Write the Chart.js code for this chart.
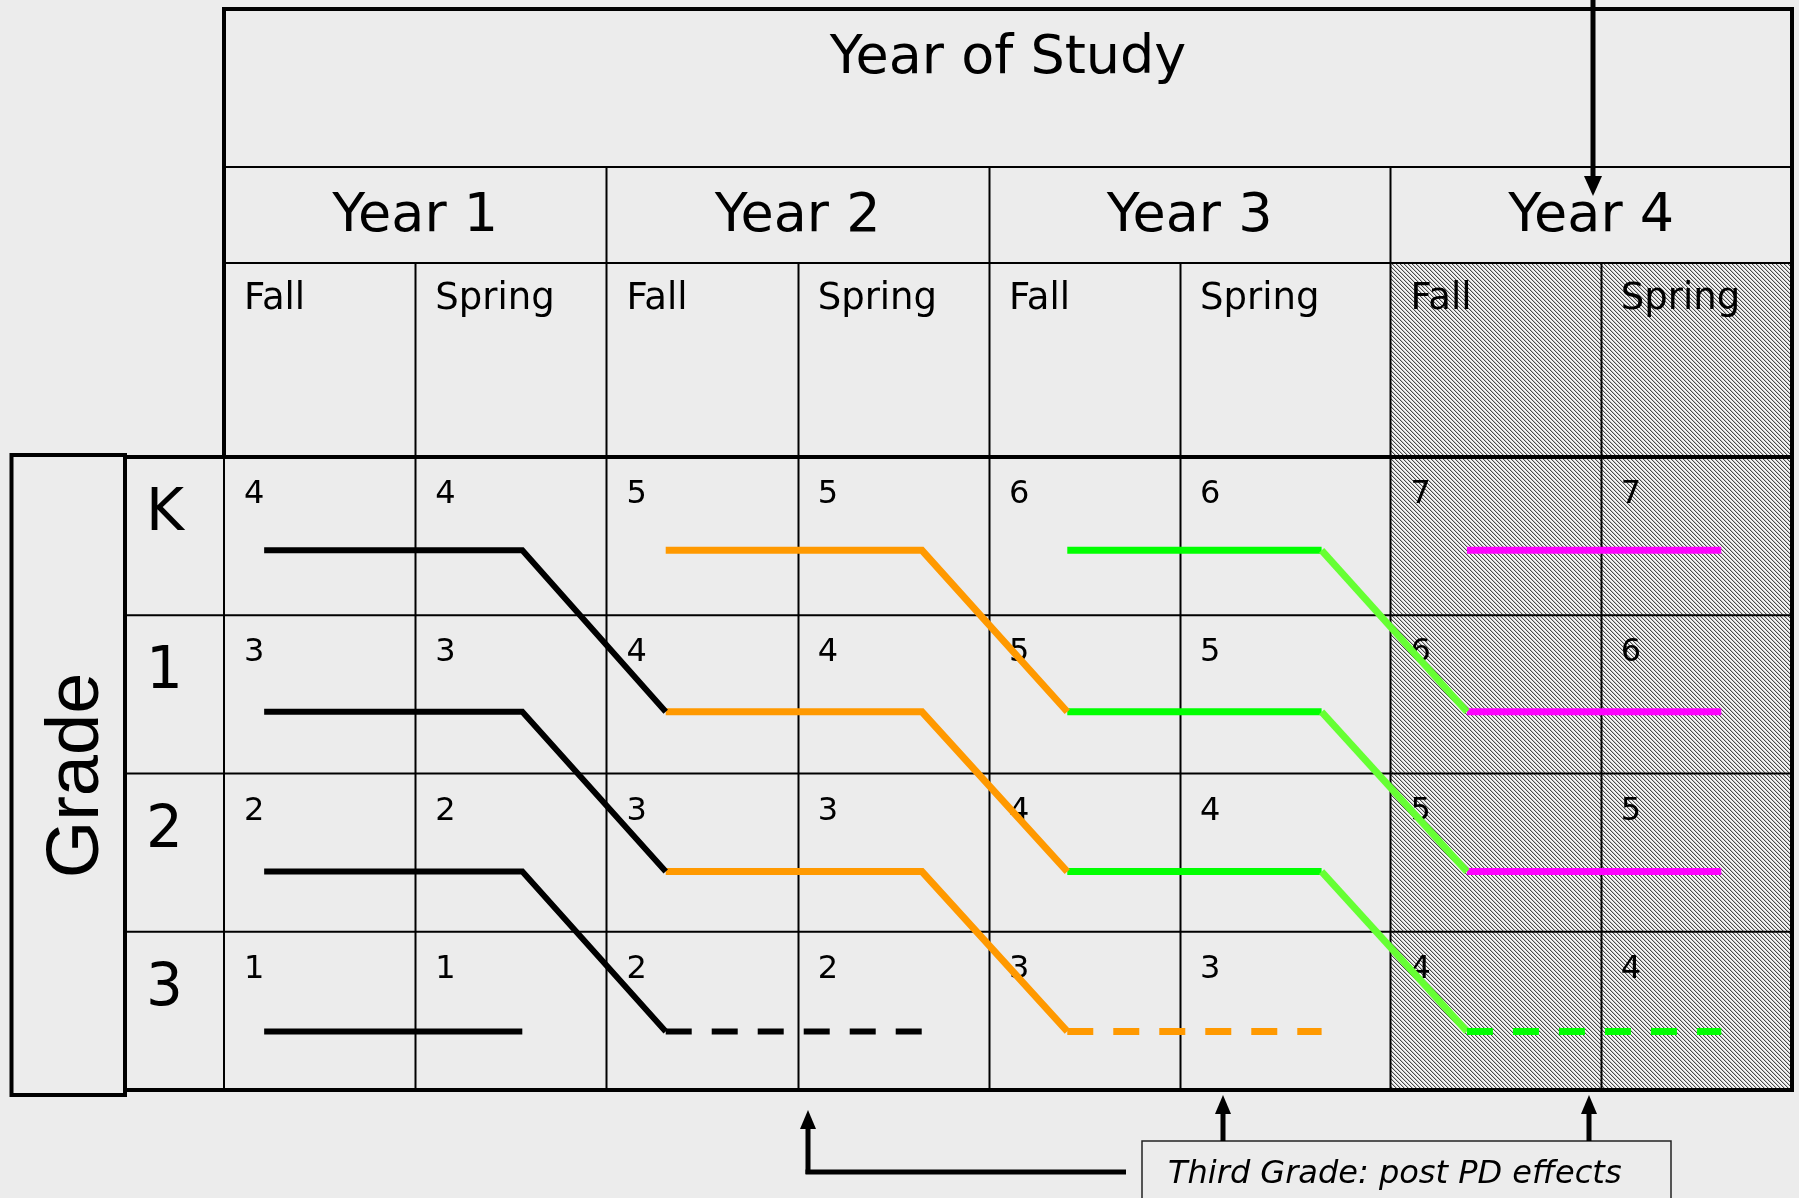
<!DOCTYPE html>
<html>
<head>
<meta charset="utf-8">
<script src="https://cdn.jsdelivr.net/npm/chart.js@4"></script>
<style>
  html, body { margin: 0; padding: 0; background: #ececec; }
  #wrap { width: 1799px; height: 1198px; position: relative; }
</style>
</head>
<body>
<div id="wrap"><canvas id="cohortChart"></canvas></div>
<script>
// --- Data ---
const years = ['Year 1', 'Year 2', 'Year 3', 'Year 4'];
const seasons = ['Fall', 'Spring'];
const grades = ['K', '1', '2', '3'];

// number printed in each Fall/Spring cell, one list per grade row
const kinderCells = [4, 4, 5, 5, 6, 6, 7, 7];
const firstCells = [3, 3, 4, 4, 5, 5, 6, 6];
const secondCells = [2, 2, 3, 3, 4, 4, 5, 5];
const thirdCells = [1, 1, 2, 2, 3, 3, 4, 4];

// season column edges (x units); Year 3 Spring and Year 4 Fall are a little wider
const seasonEdges = [0, 1, 2, 3, 4, 5, 6.1, 7.2, 8.2];

// where each year's cohort line runs (x units) and the level of each grade row (y units)
const lineStart = [0.21, 2.31, 4.41, 6.5];
const lineEnd = [1.56, 3.65, 5.74, 7.83];
const gradeLevel = [0.59, 1.61, 2.62, 3.63];

const yearColors = ['#000000', '#ff9900', '#00ff00', '#ff00ff'];
const moveColors = ['#000000', '#ff9900', '#66ff33'];
const hatchedYear = 3;
const noteText = 'Third Grade: post PD effects';

// --- Datasets: one polyline per cohort row ---
const datasets = [];
years.forEach(function(_, y) {
    grades.forEach(function(_, r) {
        if (r === 3 && y > 0) return; // later third-grade lines are the dashed tails below
        const pts = [
            { x: lineStart[y], y: gradeLevel[r] },
            { x: lineEnd[y], y: gradeLevel[r] }
        ];
        if (r < 3 && y < 3) {
            pts.push({ x: lineStart[y + 1], y: gradeLevel[r + 1] });
            if (r === 2) pts.push({ x: lineEnd[y + 1], y: gradeLevel[3] });
        }
        datasets.push({
            data: pts,
            borderColor: yearColors[y],
            borderWidth: y === 0 ? 6 : 7,
            segment: {
                borderColor: ctx => ctx.p0DataIndex === 1 ? moveColors[y] : yearColors[y],
                borderDash: ctx => ctx.p0DataIndex === 2 ? [26, 20] : []
            }
        });
    });
});

// hatch pattern for the last year
function makeHatch(ctx) {
    const c = document.createElement('canvas');
    c.width = 4; c.height = 4;
    const g = c.getContext('2d');
    g.fillStyle = '#f4f4f4';
    g.fillRect(0, 0, 4, 4);
    for (let i = 0; i < 4; i++) {
        g.fillStyle = '#4a4a4a';
        g.fillRect(i, i, 1, 1);
        g.fillStyle = '#c4c4c4';
        g.fillRect((i + 1) % 4, i, 1, 1);
    }
    return ctx.createPattern(c, 'repeat');
}

function line(ctx, x1, y1, x2, y2, w) {
    ctx.lineWidth = w;
    ctx.beginPath();
    ctx.moveTo(x1, y1);
    ctx.lineTo(x2, y2);
    ctx.stroke();
}

function arrowUp(ctx, x, tipY, bottomY) {
    line(ctx, x, tipY + 16, x, bottomY, 5);
    ctx.beginPath();
    ctx.moveTo(x, tipY);
    ctx.lineTo(x - 8, tipY + 19);
    ctx.lineTo(x + 8, tipY + 19);
    ctx.closePath();
    ctx.fill();
}

// --- Table drawing plugin ---
const tablePlugin = {
    id: 'studyTable',
    beforeDatasetsDraw(chart) {
        const ctx = chart.ctx;
        const area = chart.chartArea;
        const xs = chart.scales.x, ys = chart.scales.y;
        const px = v => xs.getPixelForValue(v);
        const py = v => ys.getPixelForValue(v);
        const top = area.top;
        const headTop = top - 448, yearTop = top - 290, seasonTop = top - 194;

        ctx.save();
        // hatched Year 4 columns
        ctx.fillStyle = makeHatch(ctx);
        ctx.fillRect(px(seasonEdges[hatchedYear * 2]), seasonTop, area.right - px(seasonEdges[hatchedYear * 2]), area.bottom - seasonTop);

        ctx.strokeStyle = '#000';
        ctx.fillStyle = '#000';
        // thin grid lines
        line(ctx, area.left, yearTop, area.right, yearTop, 2);
        line(ctx, area.left, seasonTop, area.right, seasonTop, 2);
        line(ctx, area.left, top, area.left, area.bottom, 2);
        for (let r = 1; r < grades.length; r++) {
            line(ctx, 125, py(r), area.right, py(r), 2);
        }
        for (let i = 1; i < seasonEdges.length - 1; i++) {
            const x = Math.round(px(seasonEdges[i])) + 0.5;
            line(ctx, x, i % 2 === 0 ? yearTop : seasonTop, x, area.bottom, 2);
        }
        // thick borders
        line(ctx, area.left - 2, headTop, area.right + 2, headTop, 4);
        line(ctx, area.left, headTop - 2, area.left, top, 4);
        line(ctx, area.right, headTop - 2, area.right, area.bottom + 2, 4);
        line(ctx, 125, top, area.right + 2, top, 4);
        line(ctx, 125, area.bottom, area.right + 2, area.bottom, 4);
        ctx.lineWidth = 4;
        ctx.strokeRect(11.5, top - 2, 113.5, area.bottom - top + 7);

        // header texts
        ctx.textBaseline = 'alphabetic';
        ctx.textAlign = 'center';
        ctx.font = '54px "DejaVu Sans"';
        ctx.fillText('Year of Study', (area.left + area.right) / 2, top - 384);
        years.forEach(function(label, y) {
            const l = px(seasonEdges[y * 2]), r = px(seasonEdges[y * 2 + 2]);
            ctx.fillText(label, (l + r) / 2, top - 226);
        });
        ctx.textAlign = 'left';
        ctx.font = '37px "DejaVu Sans"';
        for (let i = 0; i < 8; i++) {
            ctx.fillText(seasons[i % 2], px(seasonEdges[i]) + 20, top - 148);
        }
        // cell numbers
        ctx.font = '32px "DejaVu Sans"';
        [kinderCells, firstCells, secondCells, thirdCells].forEach(function(row, r) {
            row.forEach(function(v, i) {
                ctx.fillText(String(v), px(seasonEdges[i]) + 20, py(r) + 46);
            });
        });
        // grade row labels
        ctx.font = '58px "DejaVu Sans"';
        grades.forEach(function(g, r) {
            ctx.fillText(g, 146, py(r) + 73);
        });
        // vertical "Grade"
        ctx.save();
        ctx.translate(98, (top + area.bottom) / 2 + 2);
        ctx.rotate(-Math.PI / 2);
        ctx.textAlign = 'center';
        ctx.font = '74px "Liberation Sans", Arial, sans-serif';
        ctx.fillText('Grade', 0, 0);
        ctx.restore();
        ctx.restore();
    },
    afterDraw(chart) {
        const ctx = chart.ctx;
        const area = chart.chartArea;
        ctx.save();
        ctx.strokeStyle = '#000';
        ctx.fillStyle = '#000';
        // arrow from the top into Year 4
        line(ctx, 1593, 0, 1593, 180, 5);
        ctx.beginPath();
        ctx.moveTo(1593, 196);
        ctx.lineTo(1584, 176);
        ctx.lineTo(1602, 176);
        ctx.closePath();
        ctx.fill();
        // note box
        ctx.fillStyle = '#ececec';
        ctx.fillRect(1142, 1141, 529, 70);
        ctx.strokeStyle = '#222';
        ctx.lineWidth = 1.5;
        ctx.strokeRect(1142, 1141, 529, 70);
        ctx.strokeStyle = '#000';
        ctx.fillStyle = '#000';
        // arrows up from the note
        arrowUp(ctx, 1223, area.bottom + 5, 1141);
        arrowUp(ctx, 1589, area.bottom + 5, 1141);
        arrowUp(ctx, 808, 1110, 1174);
        line(ctx, 805.5, 1172, 1126, 1172, 5);
        ctx.font = 'oblique 32px "DejaVu Sans"';
        ctx.textAlign = 'left';
        ctx.fillText(noteText, 1168, 1183);
        ctx.restore();
    }
};

const ctxCanvas = document.getElementById('cohortChart').getContext('2d');
new Chart(ctxCanvas, {
    type: 'line',
    data: { datasets: datasets },
    options: {
        responsive: true,
        maintainAspectRatio: false,
        animation: false,
        layout: { padding: { left: 224, right: 7, top: 457, bottom: 108 } },
        scales: {
            x: { type: 'linear', min: 0, max: seasonEdges[seasonEdges.length - 1], display: false },
            y: { type: 'linear', min: 0, max: grades.length, reverse: true, display: false }
        },
        elements: {
            point: { radius: 0 },
            line: { tension: 0, borderCapStyle: 'butt', borderJoinStyle: 'miter', fill: false }
        },
        plugins: {
            legend: { display: false },
            tooltip: { enabled: false }
        }
    },
    plugins: [tablePlugin]
});
</script>
</body>
</html>
